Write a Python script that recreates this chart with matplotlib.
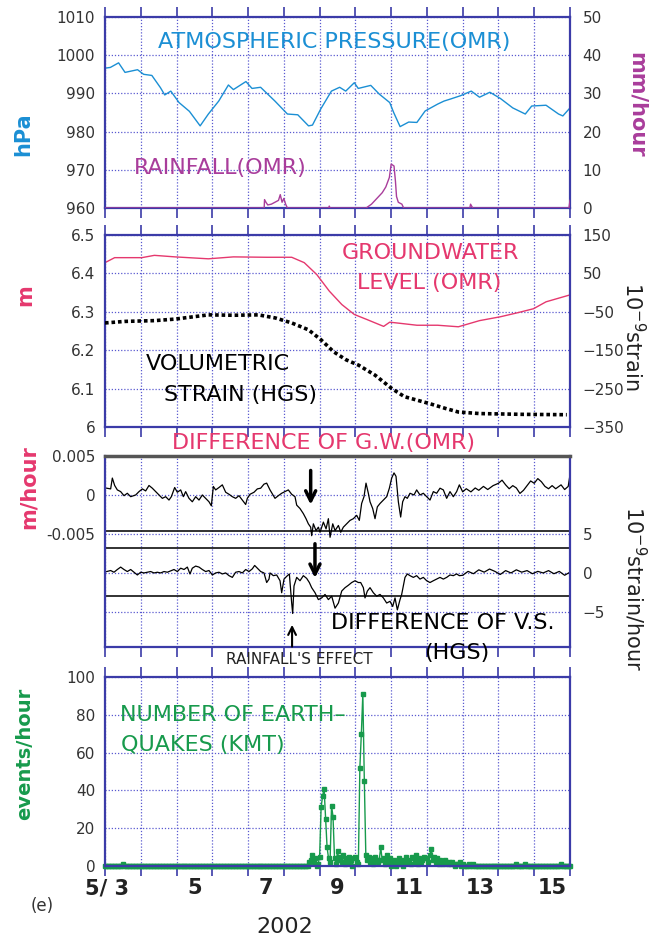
import numpy as np
import matplotlib.pyplot as plt

# time axis: days of May 2002 (3.0 = 5/3 00:00)
press_day = [3.0, 3.15, 3.38, 3.56, 3.91, 4.08, 4.31, 4.55, 4.67, 4.84, 5.07, 5.36, 5.66, 5.89,
             6.18, 6.45, 6.59, 6.94, 7.11, 7.35, 7.75, 8.1, 8.39, 8.69, 8.8, 9.03, 9.33, 9.56,
             9.73, 9.97, 10.08, 10.43, 10.67, 10.96, 11.07, 11.25, 11.49, 11.72, 11.95, 12.3,
             12.48, 12.65, 12.94, 13.24, 13.47, 13.76, 14.05, 14.4, 14.75, 14.93, 15.33, 15.68,
             15.8, 16.0]
press_hpa = [996.6, 996.8, 998.0, 995.5, 996.2, 995.0, 994.7, 991.5, 989.6, 990.6, 987.6, 985.3,
             981.5, 984.6, 988.0, 992.2, 991.0, 993.1, 991.3, 991.6, 988.0, 984.6, 984.4, 981.5,
             981.7, 985.9, 990.6, 991.6, 990.6, 992.8, 991.3, 992.1, 989.8, 987.6, 985.0, 981.3,
             982.5, 982.4, 985.4, 987.2, 988.0, 988.5, 989.4, 990.6, 989.0, 990.3, 988.7, 986.2,
             984.6, 986.7, 986.9, 984.6, 984.1, 986.2]

rain_day = [3.0, 7.45, 7.46, 7.5, 7.55, 7.65, 7.75, 7.85, 7.9, 7.95, 8.0, 8.05, 8.1, 9.25, 9.27,
            9.29, 10.3, 10.45, 10.6, 10.75, 10.85, 10.95, 11.0, 11.08, 11.12, 11.15, 11.2, 11.3,
            11.35, 13.2, 13.22, 13.28, 15.97, 16.0]
rain_mm = [0, 0, 2.2, 1.5, 0.8, 1.0, 1.5, 2.0, 3.5, 1.5, 2.5, 1.0, 0, 0, 0.5,
           0, 0, 1.0, 2.5, 4.0, 5.5, 8.0, 11.5, 11.0, 7.0, 3.0, 1.5, 1.0,
           0, 0, 1.0, 0, 0, 2.0]

gw_day = [3.0, 3.27, 4.03, 4.38, 4.96, 5.89, 6.59, 7.52, 8.22, 8.57, 8.92, 9.27, 9.62, 9.97,
          10.32, 10.79, 10.96, 11.25, 11.72, 12.3, 12.88, 13.47, 14.05, 14.51, 14.98, 15.33, 16.0]
gw_m = [6.428, 6.441, 6.441, 6.447, 6.443, 6.438, 6.443, 6.442, 6.442, 6.428, 6.397, 6.354,
        6.319, 6.293, 6.280, 6.262, 6.273, 6.270, 6.265, 6.265, 6.261, 6.277, 6.287, 6.297,
        6.308, 6.326, 6.344]

vs_day = [3.0, 3.56, 4.38, 4.96, 5.89, 6.59, 7.29, 7.76, 8.22, 8.69, 9.04, 9.39, 9.74, 10.09,
          10.55, 11.02, 11.37, 11.72, 12.07, 12.53, 12.88, 13.47, 14.63, 15.91]
vs_strain = [-79, -75, -73, -69, -58, -59, -58, -66, -79, -97, -123, -154, -175, -189, -215,
             -250, -271, -280, -289, -302, -311, -315, -317, -318]

# hourly difference of groundwater level, in 10^-3 m/hour
dgw_day = [3.047, 3.158, 3.205, 3.27, 3.345, 3.438, 3.531, 3.624, 3.718, 3.857, 3.95, 4.044,
           4.137, 4.23, 4.323, 4.417, 4.51, 4.603, 4.696, 4.789, 4.855, 4.948, 5.022, 5.116,
           5.19, 5.255, 5.348, 5.441, 5.535, 5.628, 5.721, 5.814, 5.907, 5.973, 6.029, 6.094,
           6.187, 6.28, 6.374, 6.467, 6.56, 6.653, 6.746, 6.839, 6.933, 6.979, 7.054, 7.166,
           7.259, 7.352, 7.445, 7.52,
           7.613, 7.753, 7.846, 7.939, 8.032, 8.125, 8.219, 8.312, 8.359, 8.452, 8.545, 8.62,
           8.685, 8.75, 8.778, 8.825, 8.9, 8.965, 9.012, 9.105, 9.18, 9.245, 9.292, 9.367,
           9.432, 9.525, 9.59, 9.663, 9.756, 9.85, 9.943, 10.036, 10.11, 10.175, 10.241, 10.297,
           10.362, 10.409, 10.484, 10.549, 10.614, 10.689, 10.782, 10.875, 10.95, 11.015,
           11.08, 11.136, 11.201, 11.266, 11.322, 11.387, 11.452, 11.527, 11.639, 11.713,
           11.806, 11.9, 11.993, 12.086, 12.179, 12.272, 12.366, 12.459, 12.552, 12.645,
           12.738, 12.831, 12.906,
           13.0, 13.1, 13.23, 13.35, 13.45, 13.58, 13.7, 13.85, 14.0, 14.1, 14.2, 14.3, 14.4,
           14.5, 14.6, 14.7, 14.8, 14.9, 15.0, 15.1, 15.2, 15.3, 15.4, 15.5, 15.6, 15.75,
           15.85, 15.95, 16.0]
dgw_mm = [0.87, 0.78, 2.17, 1.22, 0.65, 0.43, -0.09, 0.22, -0.22, 0.0, 0.43, 0.78, 0.52, 1.22,
          0.87, 0.43, 0.0, -0.43, -0.22, -0.65, -0.22, 0.96, 0.35, 0.65, -0.22, 0.43, -0.43,
          -0.87, -0.22, -0.65, 0.0, -0.43, -0.87, -1.39, 1.09, 0.65, 0.96, 1.3, 0.35, 0.09,
          -0.22, -0.43, -0.09, -0.65, -1.22, -0.43, 0.09, 0.35, 0.78, 0.87, 1.39, 1.52,
          0.65, -0.43, -0.09, 0.22, 0.43, 0.65, 0.09, -0.22, -1.3, -1.74, -2.39, -3.04, -3.7,
          -4.13, -5.22, -3.7, -4.57, -4.13, -4.78, -3.48, -4.35, -3.04, -5.43, -3.7, -4.57,
          -3.91, -4.78, -4.13, -3.7, -3.26, -3.04, -2.61, -3.26, -1.09, -0.22, 1.52, 0.22,
          -0.87, -1.74, -3.04, -1.52, -1.09, -0.65, -0.22, 0.87, 2.17, 2.83, 2.39, -0.87,
          -2.83, -0.87, -0.22, -0.43, 0.22, 0.0, 0.65, 0.0, 0.22, -0.22, -0.65, 0.43, 0.22,
          0.87, 0.65, -0.43, 0.43, -0.22, 0.43, 1.3,
          0.4, 0.8, 0.4, 0.9, 0.6, 1.1, 0.7, 1.2, 1.5, 1.9, 1.3, 0.8, 1.2, 0.9, 0.2, 0.6,
          1.2, 1.8, 1.5, 2.1, 1.7, 1.1, 0.8, 1.2, 0.8, 1.3, 0.7, 1.1, 2.6]

# hourly difference of volumetric strain, 10^-9 strain/hour
dvs_day = [3.047, 3.158, 3.251, 3.345, 3.438, 3.531, 3.624, 3.718, 3.811, 3.904, 3.997, 4.09,
           4.184, 4.277, 4.37, 4.463, 4.556, 4.65, 4.743, 4.836, 4.929, 5.022, 5.116, 5.209,
           5.302, 5.376, 5.441, 5.535, 5.628, 5.721, 5.814, 5.907, 6.001, 6.094, 6.187, 6.28,
           6.374, 6.467, 6.56, 6.653, 6.746, 6.839, 6.933, 7.026, 7.119, 7.184, 7.259, 7.352,
           7.445, 7.52, 7.585,
           7.613, 7.706, 7.799, 7.893, 7.939, 8.005, 8.079, 8.154, 8.219, 8.247, 8.284, 8.359,
           8.452, 8.545, 8.638, 8.713, 8.778, 8.872, 8.965, 9.058, 9.151, 9.245, 9.338, 9.431,
           9.525, 9.618, 9.711, 9.804, 9.897, 9.99, 10.083, 10.148, 10.223, 10.269, 10.335,
           10.409, 10.502, 10.595, 10.689, 10.782, 10.875, 10.968, 11.043, 11.108, 11.173,
           11.248, 11.294, 11.341, 11.387, 11.452, 11.527, 11.62, 11.713, 11.806, 11.9,
           11.993, 12.086, 12.179, 12.272, 12.366, 12.459, 12.552, 12.645, 12.738, 12.831,
           12.906,
           13.0, 13.15, 13.3, 13.45, 13.6, 13.75, 13.9, 14.05, 14.2, 14.35, 14.5, 14.65, 14.8,
           14.95, 15.1, 15.25, 15.4, 15.55, 15.7, 15.85, 16.0]
dvs = [0.18, 0.31, 0.09, 0.44, 0.75, 0.44, 0.18, 0.44, 0.09, -0.26, 0.09, 0.0, 0.09, 0.18, 0.0,
       0.09, 0.0, 0.18, 0.09, 0.26, 0.44, 0.18, 0.61, 0.44, 0.75, -0.13, 0.61, 0.88, 0.75, 0.44,
       0.18, 0.31, -0.26, 0.0, 0.09, -0.13, 0.0, -0.35, -0.57, 0.09, 0.18, 0.0, 0.44, 0.18,
       0.53, 0.96, 0.61, 0.18, 0.0, -1.23, -0.79,
       0.0, -0.35, -0.26, -1.0, -2.54, -0.79, -0.44, -0.13, -3.86, -5.2, -1.67, -0.57, -1.0,
       -0.35, -0.7, -1.23, -1.89, -2.54, -3.42, -3.2, -2.76, -3.42, -2.98, -4.52, -3.86, -2.32,
       -1.89, -1.58, -1.23, -1.0, -1.23, -1.23, -1.89, -3.2, -2.32, -1.89, -2.54, -2.98, -2.76,
       -3.2, -3.86, -3.64, -4.3, -3.2, -4.74, -3.42, -2.76, -1.67, -0.57, -0.13, -0.35, -0.57,
       -0.35, -0.79, -0.57, -1.0, -1.23, -1.0, -0.79, -0.57, -0.79, -0.57, -0.26, -0.35, -0.13,
       -0.35,
       -0.3, 0.2, -0.1, 0.4, 0.1, 0.5, 0.2, -0.2, 0.3, 0.0, 0.4, 0.1, 0.3, -0.1, 0.2, 0.0, 0.3,
       -0.1, 0.2, -0.3, 0.1]

# earthquakes per hour (hours counted from 5/3 00:00), all other hours 0
quake_hour = [12, 137, 138, 139, 140, 141, 143, 144, 145, 146, 147, 148, 149, 150, 151, 152,
              153, 154, 155, 156, 157, 158, 159, 160, 161, 162, 163, 164, 165, 167, 168, 169,
              170, 171, 172, 173, 174, 175, 176, 177, 178, 179, 180, 181, 182, 183, 184, 185,
              186, 187, 188, 189, 190, 191, 193, 194, 196, 197, 198, 199, 201, 202, 203, 204,
              205, 206, 207, 208, 209, 210, 211, 212, 213, 214, 215, 216, 217, 218, 219, 220,
              221, 222, 223, 224, 225, 226, 227, 228, 229, 230, 231, 232, 233, 234, 236, 237,
              238, 240, 244, 247, 276, 282, 306]
quake_n = [1, 2, 3, 6, 2, 4, 1, 5, 31, 37, 41, 25, 10, 4, 2, 32, 26, 4, 1, 8, 3, 5, 2, 6, 1, 4,
           2, 5, 3, 4, 5, 2, 1, 52, 70, 91, 45, 6, 3, 5, 2, 4, 1, 5, 3, 2, 3, 10, 3, 4, 1, 6, 2,
           4, 2, 3, 2, 4, 1, 3, 2, 5, 2, 3, 1, 5, 4, 2, 6, 1, 4, 2, 3, 5, 4, 4, 2, 6, 9, 3, 5, 2,
           4, 1, 3, 2, 1, 3, 2, 1, 2, 1, 2, 1, 1, 1, 2, 1, 1, 1, 1, 1, 1]

day_labels = ["5/ 3", "5", "7", "9", "11", "13", "15"]

FRAME = '#3b3ba8'
GRID = '#5a5ad0'
BLUE = '#1b8fd4'
PURPLE = '#a93d9b'
PINK = '#e5386e'
GREEN = '#179a4c'
TXT = '#333333'

W, H = 654, 941
fig = plt.figure(figsize=(W / 100, H / 100), dpi=100)


def box(top, bottom):
    return [105 / W, 1 - bottom / H, 465 / W, (bottom - top) / H]


def ftext(x, y, s, **kw):
    kw.setdefault('ha', 'center')
    kw.setdefault('va', 'center')
    fig.text(x / W, 1 - y / H, s, **kw)


def style(ax, top_ticks=True):
    ax.set_xlim(3, 16)
    ax.set_xticks(range(3, 17))
    ax.tick_params(axis='x', which='major', direction='out', length=7, width=1.2, color=FRAME,
                   top=top_ticks, bottom=True, labelbottom=False)
    ax.tick_params(axis='y', length=0, labelsize=11, pad=7, labelcolor=TXT)
    ax.grid(True, color=GRID, linestyle=(0, (1, 1.5)), linewidth=0.9)
    for s in ax.spines.values():
        s.set_color(FRAME)
        s.set_linewidth(1.6)


def twin(ax, lo, hi, ticks):
    t = ax.twinx()
    t.set_ylim(lo, hi)
    t.set_yticks(ticks)
    t.tick_params(axis='y', length=0, labelsize=11, pad=9, labelcolor=TXT)
    for s in t.spines.values():
        s.set_visible(False)
    return t


TS = 16  # size of the in-plot titles

# panel 1: pressure & rainfall
ax1 = fig.add_axes(box(17, 208))
style(ax1)
ax1.set_ylim(960, 1010)
ax1.set_yticks(range(960, 1011, 10))
ax1.plot(press_day, press_hpa, color=BLUE, lw=1)
t1 = twin(ax1, 0, 50, range(0, 51, 10))
t1.plot(rain_day, rain_mm, color=PURPLE, lw=1)
ftext(334, 42, "ATMOSPHERIC PRESSURE(OMR)", color=BLUE, fontsize=TS)
ftext(220, 168, "RAINFALL(OMR)", color=PURPLE, fontsize=TS)
ftext(23, 134, "hPa", color=BLUE, fontsize=15, fontweight='bold', rotation=90)
ftext(637, 105, "mm/hour", color=PURPLE, fontsize=15, fontweight='bold', rotation=270)

# panel 2: groundwater level & volumetric strain
ax2 = fig.add_axes(box(235, 427))
style(ax2)
ax2.set_ylim(6.0, 6.5)
ax2.set_yticks([6.0, 6.1, 6.2, 6.3, 6.4, 6.5])
ax2.set_yticklabels(["6", "6.1", "6.2", "6.3", "6.4", "6.5"])
ax2.plot(gw_day, gw_m, color=PINK, lw=1)
t2 = twin(ax2, -350, 150, range(-350, 151, 100))
t2.plot(vs_day, vs_strain, color='black', lw=2.6, linestyle=(0, (1, 0.8)))
ftext(430, 253, "GROUNDWATER", color=PINK, fontsize=TS)
ftext(429, 283, "LEVEL (OMR)", color=PINK, fontsize=TS)
ftext(218, 364, "VOLUMETRIC", color='black', fontsize=TS)
ftext(240, 395, "STRAIN (HGS)", color='black', fontsize=TS)
ftext(25, 295, "m", color=PINK, fontsize=15, fontweight='bold', rotation=90)
ftext(633, 336, "10$^{-9}$strain", color='#222222', fontsize=15, rotation=270)

# panel 3: hourly differences (left axis in 10^-3 m/hour)
ax3 = fig.add_axes(box(456, 647))
style(ax3, top_ticks=False)
ax3.set_ylim(-19.5, 5.0)
ax3.set_yticks([5, 0, -5, -10, -15])
ax3.set_yticklabels(["0.005", "0", "-0.005", "", ""])
ax3.spines['top'].set_color('#555555')
ax3.spines['top'].set_linewidth(2.5)
for yl in [-4.6, -6.8, -12.9]:
    ax3.axhline(yl, color='#222222', lw=1.3)
ax3.plot(dgw_day, dgw_mm, color='black', lw=0.9)
ax3.plot(dvs_day, np.array(dvs) - 10, color='black', lw=0.9)
twin(ax3, -9.5, 15, [5, 0, -5])
ax3.annotate('', xy=(8.75, -1.6), xytext=(8.75, 3.5),
             arrowprops=dict(arrowstyle='->', lw=2.5, color='black', mutation_scale=18))
ax3.annotate('', xy=(8.87, -11.0), xytext=(8.87, -5.9),
             arrowprops=dict(arrowstyle='->', lw=2.5, color='black', mutation_scale=18))
ax3.annotate('', xy=(8.23, -16.3), xytext=(8.23, -19.8), annotation_clip=False,
             arrowprops=dict(arrowstyle='->', lw=1.5, color='black', mutation_scale=14))
ftext(323, 443, "DIFFERENCE OF G.W.(OMR)", color=PINK, fontsize=TS)
ftext(443, 623, "DIFFERENCE OF V.S.", color='black', fontsize=TS)
ftext(457, 653, "(HGS)", color='black', fontsize=TS)
ftext(299, 660, "RAINFALL'S EFFECT", color='#222222', fontsize=11)
ftext(29, 487, "m/hour", color=PINK, fontsize=15, fontweight='bold', rotation=90)
ftext(635, 589, "10$^{-9}$strain/hour", color='#222222', fontsize=15, rotation=270)

# panel 4: earthquakes
hours = np.arange(0, 13 * 24 + 1)
quakes = np.zeros(len(hours))
quakes[quake_hour] = quake_n
ax4 = fig.add_axes(box(677, 866))
style(ax4)
ax4.set_ylim(0, 100)
ax4.set_yticks(range(0, 101, 20))
ax4.plot(3 + hours / 24, quakes, color=GREEN, lw=1, marker='s', ms=2.8, clip_on=False)
ax4.set_xticks([3.06, 5.5, 7.5, 9.5, 11.5, 13.5, 15.5], minor=True)
ax4.set_xticklabels(day_labels, minor=True, fontsize=15, fontweight='bold', color='#222222')
ax4.tick_params(axis='x', which='minor', length=0, pad=9, bottom=True, top=False)
ftext(233, 715, "NUMBER OF EARTH\u2013", color=GREEN, fontsize=TS)
ftext(203, 745, "QUAKES (KMT)", color=GREEN, fontsize=TS)
ftext(25, 754, "events/hour", color=GREEN, fontsize=14, fontweight='bold', rotation=90)
ftext(42, 906, "(e)", color='#333333', fontsize=12)
ftext(285, 927, "2002", color='#222222', fontsize=16)

fig.savefig("out.png", dpi=100)
